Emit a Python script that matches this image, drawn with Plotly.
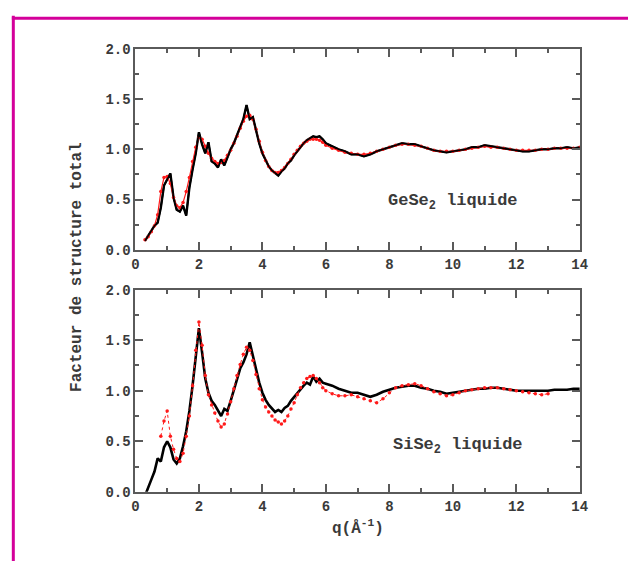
import plotly.graph_objects as go

W, H = 628, 561

# ---------------- data ----------------
q = [0.3, 0.4, 0.5, 0.6, 0.7, 0.8, 0.9, 1.0, 1.1, 1.2, 1.3, 1.4, 1.5, 1.6, 1.7, 1.8, 1.9,
     2.0, 2.1, 2.2, 2.3, 2.4, 2.5, 2.6, 2.7, 2.8, 2.9, 3.0, 3.1, 3.2, 3.3, 3.4, 3.5, 3.6,
     3.7, 3.8, 3.9, 4.0, 4.1, 4.2, 4.3, 4.4, 4.5, 4.6, 4.7, 4.8, 4.9, 5.0, 5.1, 5.2, 5.3,
     5.4, 5.5, 5.6, 5.7, 5.8, 5.9, 6.0,
     6.2, 6.4, 6.6, 6.8, 7.0, 7.2, 7.4, 7.6, 7.8, 8.0, 8.2, 8.4, 8.6, 8.8, 9.0, 9.2, 9.4,
     9.6, 9.8, 10.0, 10.2, 10.4, 10.6, 10.8, 11.0, 11.2, 11.4, 11.6, 11.8, 12.0, 12.2,
     12.4, 12.6, 12.8, 13.0, 13.2, 13.4, 13.6, 13.8, 14.0]

gese2_black = [0.09, 0.14, 0.19, 0.24, 0.27, 0.42, 0.64, 0.70, 0.76, 0.52, 0.40, 0.38, 0.44,
               0.34, 0.62, 0.80, 0.96, 1.17, 1.05, 0.96, 1.07, 0.88, 0.86, 0.82, 0.90, 0.84,
               0.92, 1.00, 1.06, 1.14, 1.22, 1.30, 1.44, 1.30, 1.32, 1.18, 1.06, 0.96, 0.90,
               0.83, 0.79, 0.76, 0.74, 0.78, 0.81, 0.86, 0.89, 0.94, 0.98, 1.03, 1.06, 1.09,
               1.11, 1.13, 1.12, 1.13, 1.10, 1.06,
               1.03, 1.00, 0.98, 0.95, 0.95, 0.93, 0.95, 0.98, 1.00, 1.02, 1.04, 1.06, 1.05,
               1.05, 1.03, 1.01, 0.99, 0.98, 0.97, 0.98, 0.99, 1.00, 1.02, 1.02, 1.04, 1.03,
               1.02, 1.01, 1.00, 0.99, 0.98, 0.98, 0.99, 1.00, 1.00, 1.01, 1.01, 1.02, 1.01,
               1.02]

gese2_red = [0.10, 0.13, 0.18, 0.24, 0.35, 0.58, 0.72, 0.73, 0.66, 0.52, 0.44, 0.42, 0.47,
             0.58, 0.72, 0.88, 1.02, 1.12, 1.10, 1.03, 0.96, 0.91, 0.88, 0.86, 0.87, 0.89,
             0.94, 0.99, 1.06, 1.13, 1.21, 1.28, 1.33, 1.34, 1.30, 1.20, 1.08, 0.97, 0.89,
             0.83, 0.79, 0.77, 0.77, 0.79, 0.82, 0.86, 0.90, 0.95, 0.99, 1.03, 1.06, 1.08,
             1.10, 1.10, 1.10, 1.09, 1.07, 1.04,
             1.01, 0.99, 0.97, 0.96, 0.95, 0.95, 0.96, 0.98, 1.00, 1.02, 1.04, 1.05, 1.05,
             1.04, 1.03, 1.01, 0.99, 0.98, 0.98, 0.98, 0.99, 1.00, 1.01, 1.02, 1.03, 1.02,
             1.02, 1.01, 1.00, 0.99, 0.99, 0.99, 0.99, 1.00, 1.00, 1.01, 1.01, 1.01, 1.01,
             1.02]

sise2_black = [-0.04, 0.05, 0.12, 0.20, 0.33, 0.30, 0.44, 0.50, 0.44, 0.32, 0.28, 0.33, 0.45,
               0.60, 0.80, 1.05, 1.35, 1.62, 1.38, 1.12, 0.98, 0.90, 0.86, 0.80, 0.75, 0.82,
               0.80, 0.90, 1.00, 1.12, 1.22, 1.28, 1.36, 1.48, 1.34, 1.22, 1.08, 0.98, 0.91,
               0.86, 0.82, 0.79, 0.81, 0.79, 0.83, 0.85, 0.90, 0.94, 0.98, 1.02, 1.05, 1.08,
               1.06, 1.14, 1.09, 1.12, 1.08, 1.07,
               1.05, 1.02, 1.00, 0.98, 0.98, 0.96, 0.94, 0.96, 0.99, 1.01, 1.03, 1.04, 1.05,
               1.05, 1.03, 1.02, 1.00, 0.99, 0.97, 0.98, 0.99, 1.00, 1.01, 1.02, 1.02, 1.03,
               1.03, 1.02, 1.01, 1.00, 1.00, 1.00, 1.00, 1.00, 1.00, 1.01, 1.01, 1.01, 1.02,
               1.02]

q_sise2_red = [0.8, 0.9, 1.0, 1.1, 1.2, 1.3, 1.4, 1.5, 1.6, 1.7, 1.8, 1.9, 2.0, 2.1, 2.2, 2.3,
               2.4, 2.5, 2.6, 2.7, 2.8, 2.9, 3.0, 3.1, 3.2, 3.3, 3.4, 3.5, 3.6, 3.7, 3.8, 3.9,
               4.0, 4.1, 4.2, 4.3, 4.4, 4.5, 4.6, 4.7, 4.8, 4.9, 5.0, 5.1, 5.2, 5.3, 5.4, 5.5,
               5.6, 5.7, 5.8, 5.9, 6.0,
               6.2, 6.4, 6.6, 6.8, 7.0, 7.2, 7.4, 7.6, 7.8, 8.0, 8.2, 8.4, 8.6, 8.8, 9.0, 9.2,
               9.4, 9.6, 9.8, 10.0, 10.2, 10.4, 10.6, 10.8, 11.0, 11.2, 11.4, 11.6, 11.8, 12.0,
               12.2, 12.4, 12.6, 12.8, 13.0]

sise2_red = [0.55, 0.70, 0.80, 0.55, 0.42, 0.33, 0.30, 0.38, 0.55, 0.75, 1.05, 1.40, 1.68,
             1.45, 1.15, 0.96, 0.86, 0.78, 0.70, 0.64, 0.67, 0.77, 0.89, 1.02, 1.15, 1.26,
             1.36, 1.43, 1.40, 1.30, 1.16, 1.02, 0.91, 0.84, 0.79, 0.75, 0.71, 0.69, 0.67,
             0.70, 0.75, 0.82, 0.88, 0.96, 1.03, 1.08, 1.12, 1.14, 1.15, 1.12, 1.08, 1.03,
             1.00,
             0.97, 0.95, 0.95, 0.96, 0.94, 0.92, 0.90, 0.88, 0.92, 0.98, 1.03, 1.05, 1.06,
             1.07, 1.05, 1.02, 0.99, 0.97, 0.95, 0.96, 0.98, 1.00, 1.01, 1.02, 1.03, 1.03,
             1.03, 1.02, 1.01, 1.00, 0.99, 0.98, 0.97, 0.96, 0.97]

x_ticks = [0, 2, 4, 6, 8, 10, 12, 14]
y_ticks = [0.0, 0.5, 1.0, 1.5, 2.0]
panel_labels = ["GeSe<sub>2</sub> liquide", "SiSe<sub>2</sub> liquide"]
y_title = "Facteur de structure total"
x_title = "q(Å<sup>-1</sup>)"

# ---------------- layout helpers (pixels -> paper coords) ----------------
def px(x):
    return x / W

def py(y):
    return 1 - y / H

XDOM = [px(134), px(587)]
TOP_DOM = [py(250), py(43)]
BOT_DOM = [py(499), py(291)]

FONT = "Liberation Mono, DejaVu Sans Mono, monospace"
AX_COLOR = "#5a5a5a"
TXT_COLOR = "#3a3a3a"
RED = "#ff1a1a"

fig = go.Figure()

# top panel
fig.add_trace(go.Scatter(x=q, y=gese2_black, mode="lines",
                         line=dict(color="black", width=2.4),
                         xaxis="x", yaxis="y", showlegend=False))
fig.add_trace(go.Scatter(x=q, y=gese2_red, mode="lines+markers",
                         line=dict(color=RED, width=1.2),
                         marker=dict(color=RED, size=3.5, symbol="circle"),
                         xaxis="x", yaxis="y", showlegend=False))
fig.add_trace(go.Scatter(x=q, y=gese2_black, mode="lines",
                         line=dict(color="black", width=1.6),
                         xaxis="x", yaxis="y", showlegend=False))

# bottom panel
fig.add_trace(go.Scatter(x=q, y=sise2_black, mode="lines",
                         line=dict(color="black", width=2.6),
                         xaxis="x2", yaxis="y2", showlegend=False))
fig.add_trace(go.Scatter(x=q_sise2_red, y=sise2_red, mode="lines+markers",
                         line=dict(color=RED, width=1, dash="dot"),
                         marker=dict(color=RED, size=3.5, symbol="circle"),
                         xaxis="x2", yaxis="y2", showlegend=False))

TICKFONT = dict(family=FONT, size=14, color=TXT_COLOR, weight="bold")

def xaxis(domain, anchor):
    return dict(domain=domain, anchor=anchor, range=[0, 14], tickvals=x_ticks,
                ticktext=[str(v) for v in x_ticks],
                showgrid=False, zeroline=False, showline=True, linecolor=AX_COLOR,
                linewidth=2, mirror="ticks", ticks="inside", ticklen=8, tickwidth=2,
                tickcolor=AX_COLOR,
                minor=dict(ticks="inside", dtick=1, ticklen=4, tickwidth=1.5,
                           tickcolor=AX_COLOR, showgrid=False),
                tickfont=TICKFONT)

def yaxis(domain, anchor):
    return dict(domain=domain, anchor=anchor, range=[0, 2], tickvals=y_ticks,
                ticktext=[f"{v:.1f}" for v in y_ticks],
                showgrid=False, zeroline=False, showline=True, linecolor=AX_COLOR,
                linewidth=2, mirror="ticks", ticks="inside", ticklen=8, tickwidth=2,
                tickcolor=AX_COLOR,
                minor=dict(ticks="inside", dtick=0.25, ticklen=4, tickwidth=1.5,
                           tickcolor=AX_COLOR, showgrid=False),
                tickfont=TICKFONT)

LABELFONT = dict(family=FONT, size=17, color=TXT_COLOR, weight="bold")
TITLEFONT = dict(family=FONT, size=16, color=TXT_COLOR, weight="bold")
MAG = "#d4009a"
fig.update_layout(
    width=W, height=H,
    margin=dict(l=0, r=0, t=0, b=0),
    paper_bgcolor="white", plot_bgcolor="white",
    xaxis=xaxis(XDOM, "y"), yaxis=yaxis(TOP_DOM, "x"),
    xaxis2=xaxis(XDOM, "y2"), yaxis2=yaxis(BOT_DOM, "x2"),
    shapes=[
        dict(type="line", xref="paper", yref="paper", x0=px(9.5), x1=px(9.5),
             y0=py(9), y1=py(600), line=dict(color=MAG, width=3)),
        dict(type="line", xref="paper", yref="paper", x0=px(8), x1=px(660),
             y0=py(11.5), y1=py(11.5), line=dict(color=MAG, width=3)),
    ],
    annotations=[
        dict(text=panel_labels[0], xref="x", yref="y", x=7.9, y=0.48, xanchor="left",
             yanchor="middle", showarrow=False, font=LABELFONT),
        dict(text=panel_labels[1], xref="x2", yref="y2", x=8.05, y=0.45, xanchor="left",
             yanchor="middle", showarrow=False, font=LABELFONT),
        dict(text=y_title, xref="paper", yref="paper", x=px(75), y=py(268),
             textangle=-90, showarrow=False, xanchor="center", yanchor="middle",
             font=TITLEFONT),
        dict(text=x_title, xref="paper", yref="paper", x=px(361), y=py(536),
             showarrow=False, xanchor="center", yanchor="middle", font=TITLEFONT),
    ],
)

fig.write_html("out.html")
